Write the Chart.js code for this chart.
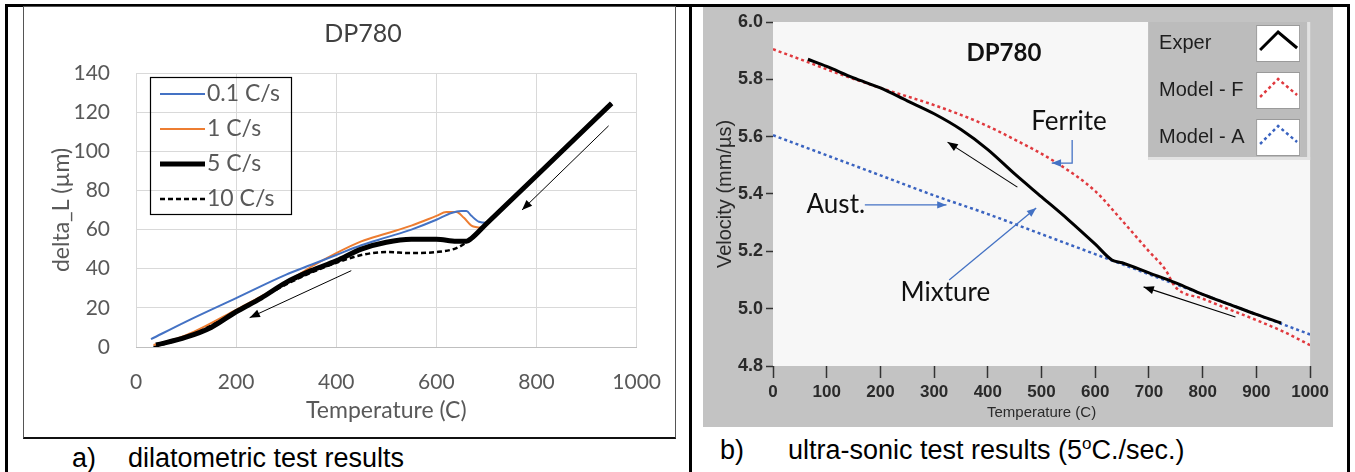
<!DOCTYPE html>
<html>
<head>
<meta charset="utf-8">
<title>DP780 dilatometric and ultra-sonic test results</title>
<script src="https://cdn.jsdelivr.net/npm/chart.js@4.4.1/dist/chart.umd.min.js"></script>
<style>
  html, body { margin: 0; padding: 0; background: #fff; }
  body { width: 1355px; height: 472px; position: relative; overflow: hidden; }
  .rule { position: absolute; background: #000; }
  #boxA { position: absolute; left: 23px; top: 6px; width: 651px; height: 430px; border: 1px solid #555; border-bottom: 2px solid #111; }
  #dilChart { position: absolute; left: 24px; top: 7px; }
  #usChart { position: absolute; left: 703px; top: 7px; background: #c3c3c3; }
  .cap { position: absolute; font-family: 'Liberation Sans', Arial, sans-serif; font-size: 27px; line-height: 30px; color: #000; white-space: nowrap; }
  .cap .lbl { display: inline-block; }
  .cap sup { font-size: 17px; line-height: 0; vertical-align: 10px; }
</style>
</head>
<body>
<div class="rule" style="left:5px;top:4px;width:1345px;height:3px"></div>
<div class="rule" style="left:5px;top:4px;width:3px;height:468px"></div>
<div class="rule" style="left:689px;top:4px;width:3px;height:468px"></div>
<div class="rule" style="left:1347px;top:4px;width:3px;height:468px"></div>
<div id="boxA"></div>
<canvas id="dilChart" width="660" height="430"></canvas>
<canvas id="usChart" width="630" height="420"></canvas>
<div class="cap" style="left:72px;top:443px"><span class="lbl" style="width:56px">a)</span>dilatometric test results</div>
<div class="cap" style="left:720px;top:435px"><span class="lbl" style="width:68px">b)</span>ultra-sonic test results (5<sup>o</sup>C./sec.)</div>
<script>
// a) dilatometric curves: temperature (C) and delta_L (um), one pair per cooling rate
const dilTemp01 = [30, 100, 200, 300, 350, 400, 450, 500, 550, 600, 630, 650, 660, 670, 685, 700, 720, 800, 950];
const dilLen01  = [4, 13, 25, 37, 42, 47, 52, 56, 60, 65, 68.5, 69.5, 69.5, 67, 64, 63.5, 68, 88, 124.5];
const dilTemp1  = [35, 100, 200, 300, 350, 400, 450, 500, 550, 600, 620, 640, 655, 670, 690, 710, 800, 950];
const dilLen1   = [1, 6, 19, 33, 41, 48, 54, 58, 62, 67, 69, 69, 66, 62, 61, 65.5, 87.5, 124.5];
const dilTemp5  = [40, 100, 150, 200, 250, 300, 350, 400, 450, 500, 550, 600, 640, 660, 670, 700, 800, 950];
const dilLen5   = [1, 5, 10, 18, 25, 33, 39, 44, 50, 53.5, 55, 55, 54, 54, 55.5, 63, 87.5, 124.5];
const dilTemp10 = [35, 100, 200, 300, 350, 400, 450, 500, 550, 600, 640, 660, 670, 700, 800, 950];
const dilLen10  = [0, 5, 18, 32, 38, 43, 47, 48.5, 48, 48.5, 50.5, 53.5, 55.5, 63, 87.5, 124.5];
const dilLabels = ['0.1 C/s', '1 C/s', '5 C/s', '10 C/s'];
// arrows drawn on plot a), in (temperature, delta_L)
const dilArrows = [[[944, 113], [771, 70]], [[430, 39], [227, 15]]];

// b) ultra-sonic velocity (mm/us) against temperature (C)
const usTempExp = [65, 100, 150, 200, 250, 300, 350, 400, 450, 500, 550, 600, 631, 650, 700, 750, 800, 850, 900, 946];
const usVelExp  = [5.87, 5.845, 5.805, 5.77, 5.725, 5.68, 5.625, 5.555, 5.47, 5.39, 5.31, 5.225, 5.17, 5.16, 5.125, 5.09, 5.05, 5.015, 4.98, 4.95];
const usTempF   = [0, 65, 100, 200, 300, 384, 450, 527, 600, 644, 700, 731, 749, 800, 853, 900, 950, 1000];
const usVelF    = [5.905, 5.86, 5.835, 5.77, 5.71, 5.65, 5.59, 5.51, 5.41, 5.32, 5.2, 5.135, 5.076, 5.035, 4.995, 4.96, 4.92, 4.873];
const usTempA   = [0, 100, 200, 300, 400, 500, 600, 700, 800, 900, 1000];
const usVelA    = [5.605, 5.535, 5.465, 5.395, 5.33, 5.26, 5.19, 5.12, 5.05, 4.98, 4.91];
const usLabels  = ['Exper', 'Model - F', 'Model - A'];
// notes on plot b), in (temperature, velocity)
const usNoteText = ['DP780', 'Ferrite', 'Aust.', 'Mixture'];
const usNoteAt   = [[430, 5.892], [551, 5.651], [117, 5.362], [321, 5.055]];
const usBlueArrows  = [[[171, 5.362], [323, 5.362]], [[328, 5.10], [490, 5.351]], [[557, 5.588], [557, 5.508], [519, 5.508]]];
const usBlackArrows = [[[455, 5.424], [325, 5.581]], [[861, 4.971], [690, 5.076]]];

const LV_FONT = "'Liberation Sans', Arial, sans-serif";
const XL_GREY = '#595959';

const pairs = (xs, ys) => xs.map((x, i) => ({ x: x, y: ys[i] }));

function drawArrow(ctx, pts, color, width, head) {
    ctx.save();
    ctx.strokeStyle = color;
    ctx.fillStyle = color;
    ctx.lineWidth = width;
    ctx.beginPath();
    ctx.moveTo(pts[0][0], pts[0][1]);
    for (let i = 1; i < pts.length; i++) ctx.lineTo(pts[i][0], pts[i][1]);
    ctx.stroke();
    const [x1, y1] = pts[pts.length - 2];
    const [x2, y2] = pts[pts.length - 1];
    const a = Math.atan2(y2 - y1, x2 - x1);
    ctx.beginPath();
    ctx.moveTo(x2, y2);
    ctx.lineTo(x2 - head * Math.cos(a - 0.38), y2 - head * Math.sin(a - 0.38));
    ctx.lineTo(x2 - head * Math.cos(a + 0.38), y2 - head * Math.sin(a + 0.38));
    ctx.closePath();
    ctx.fill();
    ctx.restore();
}

// arrows and free text placed through the chart's own scales
function notesPlugin(id, arrows, labels) {
    return {
        id: id,
        afterDatasetsDraw(chart) {
            const { ctx, scales } = chart;
            const px = p => [scales.x.getPixelForValue(p[0]), scales.y.getPixelForValue(p[1])];
            arrows.forEach(a => drawArrow(ctx, a.pts.map(px), a.color, a.width, a.head));
            labels.forEach(l => {
                const [x, y] = px(l.at);
                ctx.save();
                ctx.font = l.font;
                ctx.fillStyle = l.color;
                ctx.textAlign = 'center';
                ctx.textBaseline = 'middle';
                ctx.fillText(l.text, x, y);
                ctx.restore();
            });
        }
    };
}

// Excel style legend: open box inside the plot
const excelLegend = {
    id: 'excelLegend',
    afterDatasetsDraw(chart) {
        const { ctx, chartArea } = chart;
        const bx = chartArea.left + 14, by = chartArea.top + 4;
        ctx.save();
        ctx.strokeStyle = '#000';
        ctx.lineWidth = 1.2;
        ctx.strokeRect(bx + 0.5, by + 0.5, 141, 137);
        ctx.font = '23px Lato';
        ctx.fillStyle = XL_GREY;
        ctx.textBaseline = 'middle';
        chart.data.datasets.forEach((ds, i) => {
            const y = by + 17 + i * 35;
            ctx.strokeStyle = ds.borderColor;
            ctx.lineWidth = ds.borderWidth;
            ctx.setLineDash(ds.borderDash || []);
            ctx.beginPath();
            ctx.moveTo(bx + 10, y);
            ctx.lineTo(bx + 55, y);
            ctx.stroke();
            ctx.setLineDash([]);
            ctx.fillText(ds.label, bx + 57, y);
        });
        ctx.restore();
    }
};

// LabVIEW style plot legend with small swatch boxes
const labviewLegend = {
    id: 'labviewLegend',
    afterDraw(chart) {
        const { ctx, chartArea } = chart;
        const bw = 162, bh = 138;
        const bx = chartArea.right - bw, by = chartArea.top;
        ctx.save();
        ctx.fillStyle = '#bcbcbc';
        ctx.fillRect(bx, by, bw, bh);
        ctx.fillStyle = '#e2e2e2';
        ctx.fillRect(bx + bw - 3, by, 3, bh);
        ctx.fillRect(bx, by + bh - 3, bw, 3);
        chart.data.datasets.forEach((ds, i) => {
            const cy = by + 21 + i * 47;
            ctx.font = '20px ' + LV_FONT;
            ctx.fillStyle = '#1e1e1e';
            ctx.textBaseline = 'middle';
            ctx.fillText(ds.label, bx + 11, cy);
            const sx = bx + 108, sy = cy - 18;
            ctx.fillStyle = '#fff';
            ctx.fillRect(sx, sy, 44, 37);
            ctx.strokeStyle = '#9a9a9a';
            ctx.lineWidth = 1;
            ctx.strokeRect(sx + 0.5, sy + 0.5, 43, 36);
            ctx.strokeStyle = ds.borderColor;
            ctx.lineWidth = ds.borderWidth;
            ctx.setLineDash(ds.borderDash || []);
            ctx.beginPath();
            ctx.moveTo(sx + 4, sy + 25);
            ctx.lineTo(sx + 22, sy + 7);
            ctx.lineTo(sx + 41, sy + 23);
            ctx.stroke();
            ctx.setLineDash([]);
        });
        ctx.restore();
    }
};

const plotBackground = {
    id: 'plotBackground',
    beforeDraw(chart) {
        const { ctx, chartArea } = chart;
        ctx.save();
        ctx.fillStyle = '#f7f7f7';
        ctx.fillRect(chartArea.left, chartArea.top, chartArea.width, chartArea.height);
        ctx.restore();
    }
};

const dilSeries = [
    { t: dilTemp01, v: dilLen01, color: '#4472C4', width: 2 },
    { t: dilTemp1, v: dilLen1, color: '#ED7D31', width: 2 },
    { t: dilTemp5, v: dilLen5, color: '#000000', width: 5 },
    { t: dilTemp10, v: dilLen10, color: '#000000', width: 2.5, dash: [5, 3] }
];

new Chart(document.getElementById('dilChart'), {
    type: 'line',
    data: {
        datasets: dilSeries.map((s, i) => ({
            label: dilLabels[i],
            data: pairs(s.t, s.v),
            borderColor: s.color,
            borderWidth: s.width,
            borderDash: s.dash || [],
            order: i === 2 ? 0 : 1
        }))
    },
    options: {
        responsive: false,
        animation: false,
        layout: { padding: { left: 24, right: 6, top: 0, bottom: 0 } },
        elements: { point: { radius: 0 }, line: { cubicInterpolationMode: 'monotone', fill: false } },
        plugins: {
            legend: { display: false },
            tooltip: { enabled: false },
            title: {
                display: true, text: 'DP780', color: '#404040',
                font: { family: 'Lato', size: 25, weight: 'normal' },
                padding: { top: 12, bottom: 24 }
            }
        },
        scales: {
            x: {
                type: 'linear', min: 0, max: 1000,
                afterFit: s => { s.height = 90; },
                ticks: { stepSize: 200, padding: 23, color: XL_GREY, font: { family: 'Lato', size: 21 }, callback: v => String(v) },
                grid: { color: '#d9d9d9', drawTicks: false },
                border: { color: '#bfbfbf' },
                title: { display: true, text: 'Temperature (C)', color: XL_GREY, font: { family: 'Lato', size: 23 }, padding: { bottom: 13 } }
            },
            y: {
                min: 0, max: 140,
                afterFit: s => { s.width = 88; },
                ticks: { stepSize: 20, padding: 26, color: XL_GREY, font: { family: 'Lato', size: 21 } },
                grid: { color: '#d9d9d9', drawTicks: false },
                border: { display: false },
                title: { display: true, text: 'delta_L (µm)', color: XL_GREY, font: { family: 'Lato', size: 23 }, padding: { top: 0 } }
            },
            // empty right-hand axis: keeps the plot clear of the right edge of the frame
            yPad: {
                axis: 'y', position: 'right', display: true,
                afterFit: s => { s.width = 40; },
                ticks: { display: false }, grid: { display: false }, border: { display: false }
            }
        }
    },
    plugins: [excelLegend, notesPlugin('dilNotes',
        dilArrows.map(p => ({ pts: p, color: '#000', width: 1, head: 11 })), [])]
});

const usSeries = [
    { t: usTempExp, v: usVelExp, color: '#000000', width: 3 },
    { t: usTempF, v: usVelF, color: '#e0393e', width: 2.5, dash: [3, 3] },
    { t: usTempA, v: usVelA, color: '#3a63c0', width: 2.5, dash: [3, 3] }
];

const usNotes = usNoteText.map((txt, i) => ({
    text: txt,
    at: usNoteAt[i],
    color: '#111',
    font: i === 0 ? 'bold 24px Lato' : '26px Lato'
}));
const usArrows = usBlueArrows.map(p => ({ pts: p, color: '#4472C4', width: 1.3, head: 10 }))
    .concat(usBlackArrows.map(p => ({ pts: p, color: '#000', width: 1.1, head: 11 })));

new Chart(document.getElementById('usChart'), {
    type: 'line',
    data: {
        datasets: usSeries.map((s, i) => ({
            label: usLabels[i],
            data: pairs(s.t, s.v),
            borderColor: s.color,
            borderWidth: s.width,
            borderDash: s.dash || [],
            order: i === 0 ? 0 : 1
        }))
    },
    options: {
        responsive: false,
        animation: false,
        layout: { padding: { left: 0, right: 21, top: 15, bottom: 0 } },
        elements: { point: { radius: 0 }, line: { cubicInterpolationMode: 'monotone', fill: false } },
        plugins: { legend: { display: false }, tooltip: { enabled: false } },
        scales: {
            x: {
                type: 'linear', min: 0, max: 1000,
                afterFit: s => { s.height = 61; },
                ticks: { stepSize: 100, padding: 4, maxRotation: 0, autoSkip: false, color: '#2a2a2a', font: { family: LV_FONT, size: 17, weight: 'bold' }, callback: v => String(v) },
                grid: { drawOnChartArea: false, tickLength: 12, tickColor: '#333', tickWidth: 1.5 },
                border: { display: false },
                title: { display: true, text: 'Temperature (C)', color: '#2a2a2a', font: { family: LV_FONT, size: 15 }, padding: { bottom: 5 } }
            },
            y: {
                min: 4.8, max: 6.0,
                afterFit: s => { s.width = 70; },
                ticks: { stepSize: 0.2, padding: 3, color: '#2a2a2a', font: { family: LV_FONT, size: 18, weight: 'bold' }, callback: v => v.toFixed(1) },
                grid: { drawOnChartArea: false, tickLength: 7, tickColor: '#333', tickWidth: 1.5 },
                border: { display: false },
                title: { display: true, text: 'Velocity (mm/µs)', color: '#2a2a2a', font: { family: LV_FONT, size: 20 }, padding: { top: 10 } }
            }
        }
    },
    plugins: [plotBackground, notesPlugin('usNotes', usArrows, usNotes), labviewLegend]
});
</script>
</body>
</html>
